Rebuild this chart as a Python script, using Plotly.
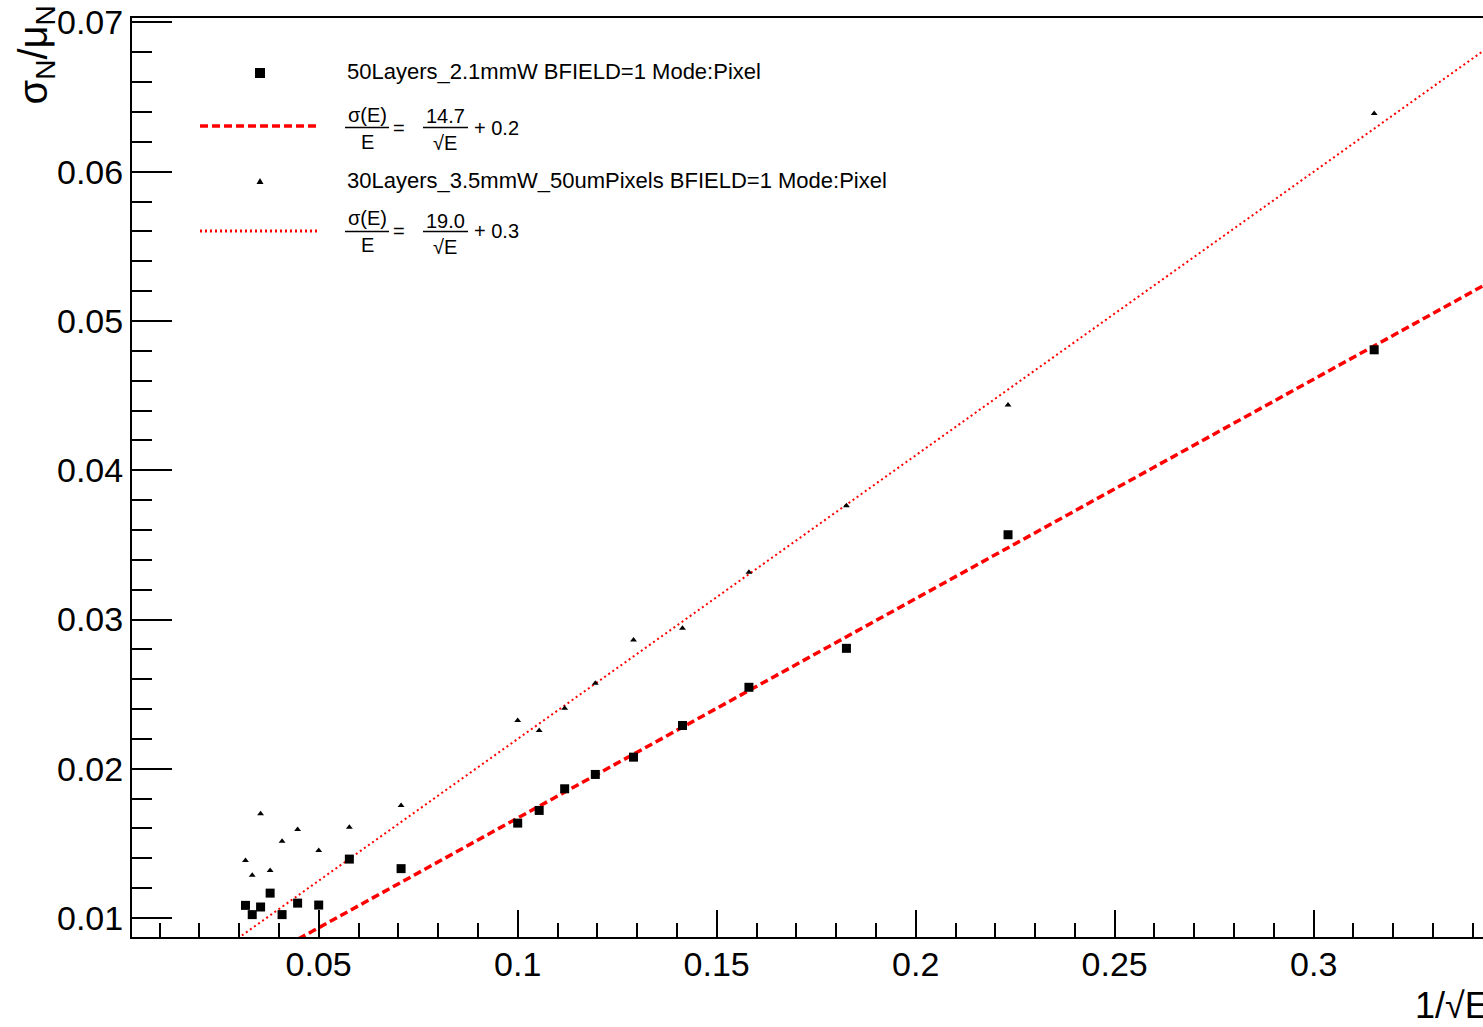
import plotly.graph_objects as go

# 1/sqrt(E) for each beam energy point (E = 1000 ... 10 GeV)
inv_sqrt_e = [0.0316, 0.0333, 0.0354, 0.0378, 0.0408, 0.0447, 0.0500, 0.0577,
              0.0707, 0.1000, 0.1054, 0.1118, 0.1195, 0.1291, 0.1414, 0.1581,
              0.1826, 0.2232, 0.3152]
# Relative resolution sigma_N / mu_N for each setup
res_50layers = [0.01085, 0.01023, 0.01074, 0.01167, 0.01023, 0.01100, 0.01087,
                0.01395, 0.01331, 0.01636, 0.01721, 0.01866, 0.01962, 0.02078,
                0.02290, 0.02546, 0.02807, 0.03568, 0.04807]
res_30layers = [0.01386, 0.01286, 0.01699, 0.01319, 0.01515, 0.01594, 0.01453,
                0.01609, 0.01754, 0.02323, 0.02256, 0.02406, 0.02573, 0.02863,
                0.02941, 0.03316, 0.03762, 0.04438, 0.06390]

# Fit results: sigma(E)/E = stoch[%]/sqrt(E) + const[%]
fit_50layers = (14.7, 0.2)
fit_30layers = (19.0, 0.3)

label_50 = "50Layers_2.1mmW BFIELD=1 Mode:Pixel"
label_30 = "30Layers_3.5mmW_50umPixels BFIELD=1 Mode:Pixel"

x_tick_vals = [0.05, 0.1, 0.15, 0.2, 0.25, 0.3]
x_tick_text = ["0.05", "0.1", "0.15", "0.2", "0.25", "0.3"]
y_tick_vals = [0.01, 0.02, 0.03, 0.04, 0.05, 0.06, 0.07]
y_tick_text = ["0.01", "0.02", "0.03", "0.04", "0.05", "0.06", "0.07"]

X_RANGE = [0.00309, 0.34254]
Y_RANGE = [0.00873, 0.0703]

W, H = 1483, 1027
ML, MR, MT, MB = 132, 0, 18, 90
PW, PH = W - ML - MR, H - MT - MB

FONT = "Liberation Sans, Arial, Helvetica, sans-serif"
RED = "#ff0000"


def fit_curve(params):
    xs = [0.0, 0.36]
    return xs, [params[0] / 100.0 * x + params[1] / 100.0 for x in xs]


def px(xp):
    return (xp - ML) / PW


def py(yp):
    return (MT + PH - yp) / PH


fig = go.Figure()

fx, fy = fit_curve(fit_50layers)
fig.add_trace(go.Scatter(x=fx, y=fy, mode="lines",
                         line=dict(color=RED, width=3.5, dash="8px,4px"),
                         hoverinfo="skip", showlegend=False))
fx, fy = fit_curve(fit_30layers)
fig.add_trace(go.Scatter(x=fx, y=fy, mode="lines",
                         line=dict(color=RED, width=2, dash="2px,3px"),
                         hoverinfo="skip", showlegend=False))

fig.add_trace(go.Scatter(x=inv_sqrt_e, y=res_50layers, mode="markers",
                         marker=dict(symbol="square", size=9, color="black"),
                         name=label_50, showlegend=False))
fig.add_trace(go.Scatter(x=inv_sqrt_e, y=res_30layers, mode="markers",
                         marker=dict(symbol="triangle-up", size=6, color="black"),
                         name=label_30, showlegend=False))

annotations = []
shapes = []


def text(x, y, s, size=22, xanchor="left", yanchor="middle", angle=0):
    annotations.append(dict(x=px(x), y=py(y), xref="paper", yref="paper",
                            text=s, showarrow=False, xanchor=xanchor,
                            yanchor=yanchor, textangle=angle,
                            font=dict(family=FONT, size=size, color="black")))


def hline(x0, x1, y, color="black", width=1.5, dash="solid"):
    shapes.append(dict(type="line", xref="paper", yref="paper",
                       x0=px(x0), x1=px(x1), y0=py(y), y1=py(y),
                       line=dict(color=color, width=width, dash=dash)))


def formula(y_bar, params):
    # sigma(E)/E = a/sqrt(E) + b, typeset as two stacked fractions
    fs = 20
    text(367, y_bar - 13, "σ(E)", fs, "center")
    hline(345, 389, y_bar)
    text(367, y_bar + 14, "E", fs, "center")
    text(399, y_bar, "=", fs, "center")
    text(445, y_bar - 11, f"{params[0]:.1f}", fs, "center")
    hline(423, 468, y_bar)
    text(445, y_bar + 15, "√E", fs, "center")
    text(472, y_bar, f"+ {params[1]:.1f}", fs, "left")


# legend
shapes.append(dict(type="rect", xref="paper", yref="paper",
                   x0=px(255), x1=px(265), y0=py(78), y1=py(68),
                   fillcolor="black", line=dict(width=0)))
text(345, 72, label_50)
hline(200, 318, 126, RED, 3.5, "8px,4px")
formula(127.5, fit_50layers)

tri = (f"M {px(256.5)} {py(184)} L {px(263.5)} {py(184)} "
       f"L {px(260)} {py(178)} Z")
shapes.append(dict(type="path", xref="paper", yref="paper", path=tri,
                   fillcolor="black", line=dict(width=0)))
text(345, 180, label_30)
hline(200, 318, 231, RED, 3, "2px,3px")
formula(231.5, fit_30layers)

# axis titles
text(36, 4, "σ<sub>N</sub>/μ<sub>N</sub>", 40, "center", "top", -90)
text(1413, 1005, "1/√E", 36, "left", "middle")

axis_font = dict(family=FONT, size=34, color="black")

fig.update_layout(
    width=W, height=H,
    margin=dict(l=ML, r=MR, t=MT, b=MB, pad=0),
    paper_bgcolor="white", plot_bgcolor="white",
    showlegend=False,
    annotations=annotations,
    shapes=shapes,
    xaxis=dict(range=X_RANGE, showgrid=False, zeroline=False,
               showline=True, linecolor="black", linewidth=2, mirror=True,
               ticks="inside", ticklen=27, tickwidth=2, tickcolor="black",
               ticklabelstandoff=-4,
               tickvals=x_tick_vals, ticktext=x_tick_text, tickfont=axis_font,
               minor=dict(ticks="inside", dtick=0.01, tick0=0, ticklen=14,
                          tickwidth=2, tickcolor="black", showgrid=False)),
    yaxis=dict(range=Y_RANGE, showgrid=False, zeroline=False,
               showline=True, linecolor="black", linewidth=2,
               ticks="inside", ticklen=40, tickwidth=2, tickcolor="black",
               tickvals=y_tick_vals, ticktext=y_tick_text, tickfont=axis_font,
               minor=dict(ticks="inside", dtick=0.002, tick0=0, ticklen=20,
                          tickwidth=2, tickcolor="black", showgrid=False)),
)

fig.write_html("out.html")
